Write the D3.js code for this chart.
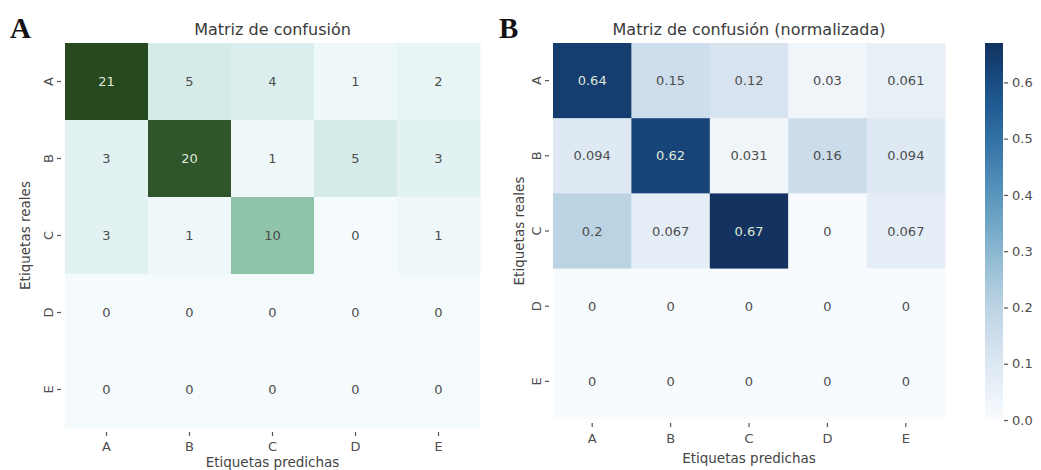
<!DOCTYPE html>
<html>
<head>
<meta charset="utf-8">
<script src="https://cdn.jsdelivr.net/npm/d3@7"></script>
<style>
  html, body { margin: 0; padding: 0; background: #fff; }
  svg { display: block; font-family: "DejaVu Sans", sans-serif; }
</style>
</head>
<body>
<svg id="chart" width="1041" height="470"></svg>
<script>
// Class labels (rows = real, columns = predicted)
const categories = ["A", "B", "C", "D", "E"];

// Raw counts
const countRows = [
  [21, 5, 4, 1, 2],
  [3, 20, 1, 5, 3],
  [3, 1, 10, 0, 1],
  [0, 0, 0, 0, 0],
  [0, 0, 0, 0, 0]
];

// Row-normalised values, as printed in each cell
const normRows = [
  ["0.64", "0.15", "0.12", "0.03", "0.061"],
  ["0.094", "0.62", "0.031", "0.16", "0.094"],
  ["0.2", "0.067", "0.67", "0", "0.067"],
  ["0", "0", "0", "0", "0"],
  ["0", "0", "0", "0", "0"]
];

const colorbarTicks = [0.0, 0.1, 0.2, 0.3, 0.4, 0.5, 0.6];

const svg = d3.select("#chart");
const textDark = "#4d4d4d";
const textLight = "#dfe8da";

// Green ramp for the counts panel
function greenScale(maxV) {
  return d3.scaleLinear()
    .domain([0, 0.05, 0.15, 0.25, 0.48, 1].map(f => f * maxV))
    .range(["#f5fbfc", "#eef8f9", "#e1f1f1", "#d3eae6", "#8ec3a8", "#264a1d"])
    .interpolate(d3.interpolateRgb)
    .clamp(true);
}

// Slightly muted Blues ramp for the normalised panel
function mutedBlues(t) {
  const c = d3.hsl(d3.interpolateBlues(Math.max(0, Math.min(1, t))));
  c.s *= 0.78;
  return c.formatHex();
}

function luminance(c) {
  const rgb = d3.rgb(c);
  const f = v => { v /= 255; return v <= 0.03928 ? v / 12.92 : Math.pow((v + 0.055) / 1.055, 2.4); };
  return 0.2126 * f(rgb.r) + 0.7152 * f(rgb.g) + 0.0722 * f(rgb.b);
}

function drawPanel(opts) {
  const { x0, x1, y0, y1, values, labels, color, title, letter, letterX,
          yLabelX, yTickLabelX, xTickLabelY, xLabelY } = opts;
  const g = svg.append("g");
  const x = d3.scaleBand().domain(categories).range([x0, x1]);
  const y = d3.scaleBand().domain(categories).range([y0, y1]);

  const cells = [];
  values.forEach((row, i) => row.forEach((v, j) => cells.push({ r: categories[i], c: categories[j], v: +v, label: labels[i][j] })));

  g.selectAll("rect.cell").data(cells).join("rect")
    .attr("class", "cell")
    .attr("x", d => x(d.c)).attr("y", d => y(d.r))
    .attr("width", x.bandwidth() + 0.5).attr("height", y.bandwidth() + 0.5)
    .attr("fill", d => color(d.v));

  g.selectAll("text.annot").data(cells).join("text")
    .attr("class", "annot")
    .attr("x", d => x(d.c) + x.bandwidth() / 2)
    .attr("y", d => y(d.r) + y.bandwidth() / 2)
    .attr("text-anchor", "middle").attr("dominant-baseline", "central")
    .attr("font-size", 13)
    .attr("fill", d => luminance(color(d.v)) < 0.3 ? textLight : textDark)
    .text(d => d.label);

  // x ticks
  const xt = g.append("g");
  categories.forEach(c => {
    const cx = x(c) + x.bandwidth() / 2;
    xt.append("line").attr("x1", cx).attr("x2", cx).attr("y1", y1 + 4).attr("y2", y1 + 8)
      .attr("stroke", "#555").attr("stroke-width", 1.2);
    xt.append("text").attr("x", cx).attr("y", xTickLabelY)
      .attr("text-anchor", "middle").attr("dominant-baseline", "central")
      .attr("font-size", 13).attr("fill", textDark).text(c);
  });
  g.append("text").attr("x", (x0 + x1) / 2).attr("y", xLabelY)
    .attr("text-anchor", "middle").attr("dominant-baseline", "central")
    .attr("font-size", 13.5).attr("fill", "#444").text("Etiquetas predichas");

  // y ticks
  const yt = g.append("g");
  categories.forEach(c => {
    const cy = y(c) + y.bandwidth() / 2;
    yt.append("line").attr("x1", x0 - 8).attr("x2", x0 - 4).attr("y1", cy).attr("y2", cy)
      .attr("stroke", "#555").attr("stroke-width", 1.2);
    yt.append("text")
      .attr("transform", `translate(${yTickLabelX},${cy}) rotate(-90)`)
      .attr("text-anchor", "middle").attr("dominant-baseline", "central")
      .attr("font-size", 13).attr("fill", textDark).text(c);
  });
  g.append("text")
    .attr("transform", `translate(${yLabelX},${(y0 + y1) / 2}) rotate(-90)`)
    .attr("text-anchor", "middle").attr("dominant-baseline", "central")
    .attr("font-size", 13.5).attr("fill", "#444").text("Etiquetas reales");

  g.append("text").attr("x", (x0 + x1) / 2).attr("y", 29)
    .attr("text-anchor", "middle").attr("dominant-baseline", "central")
    .attr("font-size", 16).attr("fill", "#3a3a3a").text(title);

  g.append("text").attr("x", letterX).attr("y", 38)
    .attr("font-family", "'Liberation Serif', 'Times New Roman', serif")
    .attr("font-weight", "bold").attr("font-size", 29).attr("fill", "#111").text(letter);
}

const countMax = d3.max(countRows.flat());
drawPanel({
  x0: 65, x1: 480, y0: 43, y1: 428,
  values: countRows, labels: countRows.map(r => r.map(String)),
  color: greenScale(countMax),
  title: "Matriz de confusión", letter: "A", letterX: 10,
  yLabelX: 25, yTickLabelX: 48, xTickLabelY: 446, xLabelY: 462
});

const normNumbers = normRows.map(r => r.map(Number));
const normMax = d3.max(normNumbers.flat());
const blue = v => mutedBlues(v / normMax);
drawPanel({
  x0: 553, x1: 945, y0: 43, y1: 419,
  values: normNumbers, labels: normRows,
  color: blue,
  title: "Matriz de confusión (normalizada)", letter: "B", letterX: 499,
  yLabelX: 519, yTickLabelX: 536, xTickLabelY: 438, xLabelY: 458
});

// Colorbar
const cbX = 985, cbW = 18, cbTop = 43, cbBottom = 420;
const cbScale = d3.scaleLinear().domain([0, normMax]).range([cbBottom, cbTop]);
const defs = svg.append("defs");
const grad = defs.append("linearGradient").attr("id", "cbGrad")
  .attr("x1", 0).attr("y1", 1).attr("x2", 0).attr("y2", 0);
d3.range(0, 1.0001, 0.05).forEach(t => {
  grad.append("stop").attr("offset", t).attr("stop-color", mutedBlues(t));
});
svg.append("rect").attr("x", cbX).attr("y", cbTop).attr("width", cbW).attr("height", cbBottom - cbTop)
  .attr("fill", "url(#cbGrad)");
const cbAxis = d3.axisRight(cbScale).tickValues(colorbarTicks).tickFormat(d3.format(".1f")).tickSize(4).tickPadding(4);
const cbG = svg.append("g").attr("transform", `translate(${cbX + cbW + 1},0)`).call(cbAxis);
cbG.select(".domain").remove();
cbG.selectAll(".tick line").attr("stroke", "#555").attr("stroke-width", 1.2);
cbG.selectAll(".tick text").attr("font-size", 13).attr("fill", textDark)
  .attr("font-family", "'DejaVu Sans', sans-serif");
</script>
</body>
</html>
